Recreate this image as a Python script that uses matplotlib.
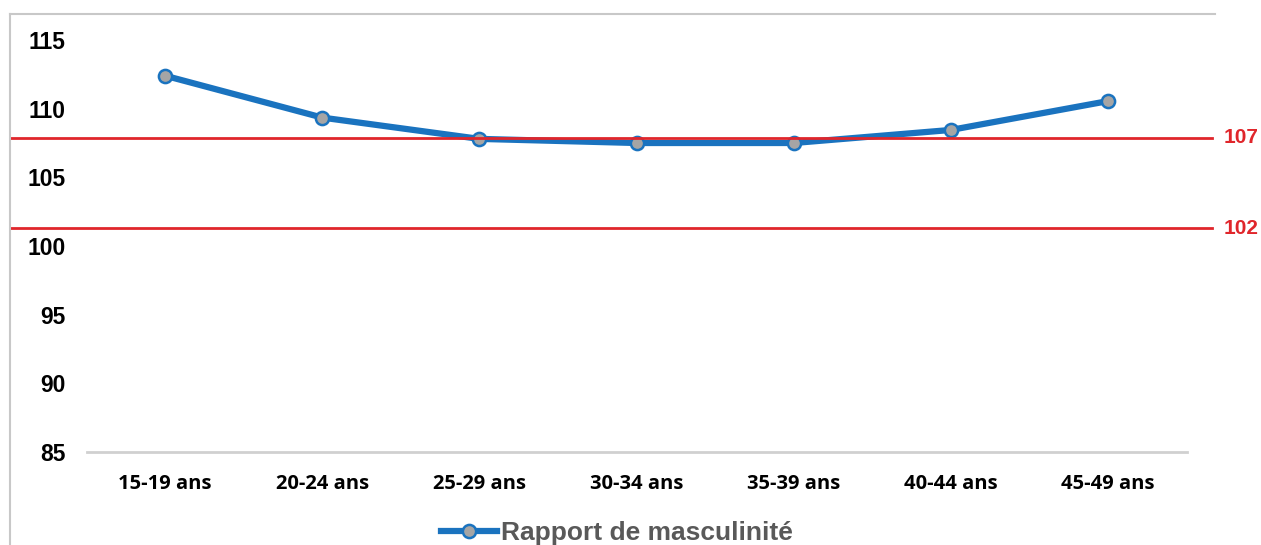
import matplotlib
matplotlib.use("Agg")
import matplotlib.pyplot as plt
from matplotlib.lines import Line2D
from matplotlib.transforms import blended_transform_factory

categories = ["15-19 ans", "20-24 ans", "25-29 ans", "30-34 ans", "35-39 ans", "40-44 ans", "45-49 ans"]
ratio = [112.4, 109.35, 107.8, 107.5, 107.5, 108.45, 110.55]
yticks = [85, 90, 95, 100, 105, 110, 115]
ref_levels = [107.9, 101.3]
ref_labels = ["107", "102"]
series_name = "Rapport de masculinité"

W, H = 1261, 545
fig = plt.figure(figsize=(W / 100, H / 100), dpi=100)
fig.patch.set_facecolor("white")

def px(x0, y0, x1, y1):
    return [x0 / W, 1 - y1 / H, (x1 - x0) / W, (y1 - y0) / H]

ax = fig.add_axes(px(86.5, 40, 1186.5, 452))
x = list(range(len(categories)))
blue = "#1A73BF"
ax.plot(x, ratio, color=blue, lw=4.5, marker="o", ms=9.5, mfc="#A5A5A5",
        mec=blue, mew=1.8, zorder=3, solid_capstyle="round")
ax.set_xlim(-0.5, len(categories) - 0.5)
ax.set_ylim(85, 115)
ax.set_yticks(yticks)
ax.set_yticklabels([str(t) for t in yticks], fontfamily="Liberation Sans",
                   fontweight="bold", fontsize=16.5, color="black")
ax.set_xticks(x)
ax.set_xticklabels(categories, fontfamily="Open Sans", fontweight="bold",
                   fontsize=14.5, color="black")
ax.tick_params(axis="y", length=0, pad=15)
ax.tick_params(axis="x", length=0, pad=16)
for s in ["top", "right", "left"]:
    ax.spines[s].set_visible(False)
ax.spines["bottom"].set_color("#D0D0D0")
ax.spines["bottom"].set_linewidth(2)
ax.patch.set_alpha(0)

# reference lines spanning the chart area
tr = blended_transform_factory(fig.transFigure, ax.transData)
for lvl, lab in zip(ref_levels, ref_labels):
    ax.plot([9.5 / W, 1212 / W], [lvl, lvl], transform=tr, color="#E0262B",
            lw=2, clip_on=False, zorder=4)
    ax.text(1224 / W, lvl, lab, transform=tr, color="#E0262B",
            fontfamily="Liberation Sans", fontweight="bold", fontsize=15,
            va="center", ha="left")

# chart border (top and left)
fig.add_artist(Line2D([9.5 / W, 1215 / W], [1 - 13.5 / H, 1 - 13.5 / H],
                      color="#C8C8C8", lw=1.5, transform=fig.transFigure))
fig.add_artist(Line2D([9.5 / W, 9.5 / W], [0, 1 - 13.5 / H],
                      color="#C8C8C8", lw=1.5, transform=fig.transFigure))

# legend
handle = Line2D([], [], color=blue, lw=4.5, marker="o", ms=9.5,
                mfc="#A5A5A5", mec=blue, mew=1.8)
leg = fig.legend([handle], [series_name], loc="center",
                 bbox_to_anchor=(617 / W, 1 - 533 / H), frameon=False,
                 handlelength=2.1, handletextpad=0.15,
                 prop={"family": "Liberation Sans", "weight": "bold", "size": 19})
for t in leg.get_texts():
    t.set_color("#595959")

fig.savefig("out.png", dpi=100)
